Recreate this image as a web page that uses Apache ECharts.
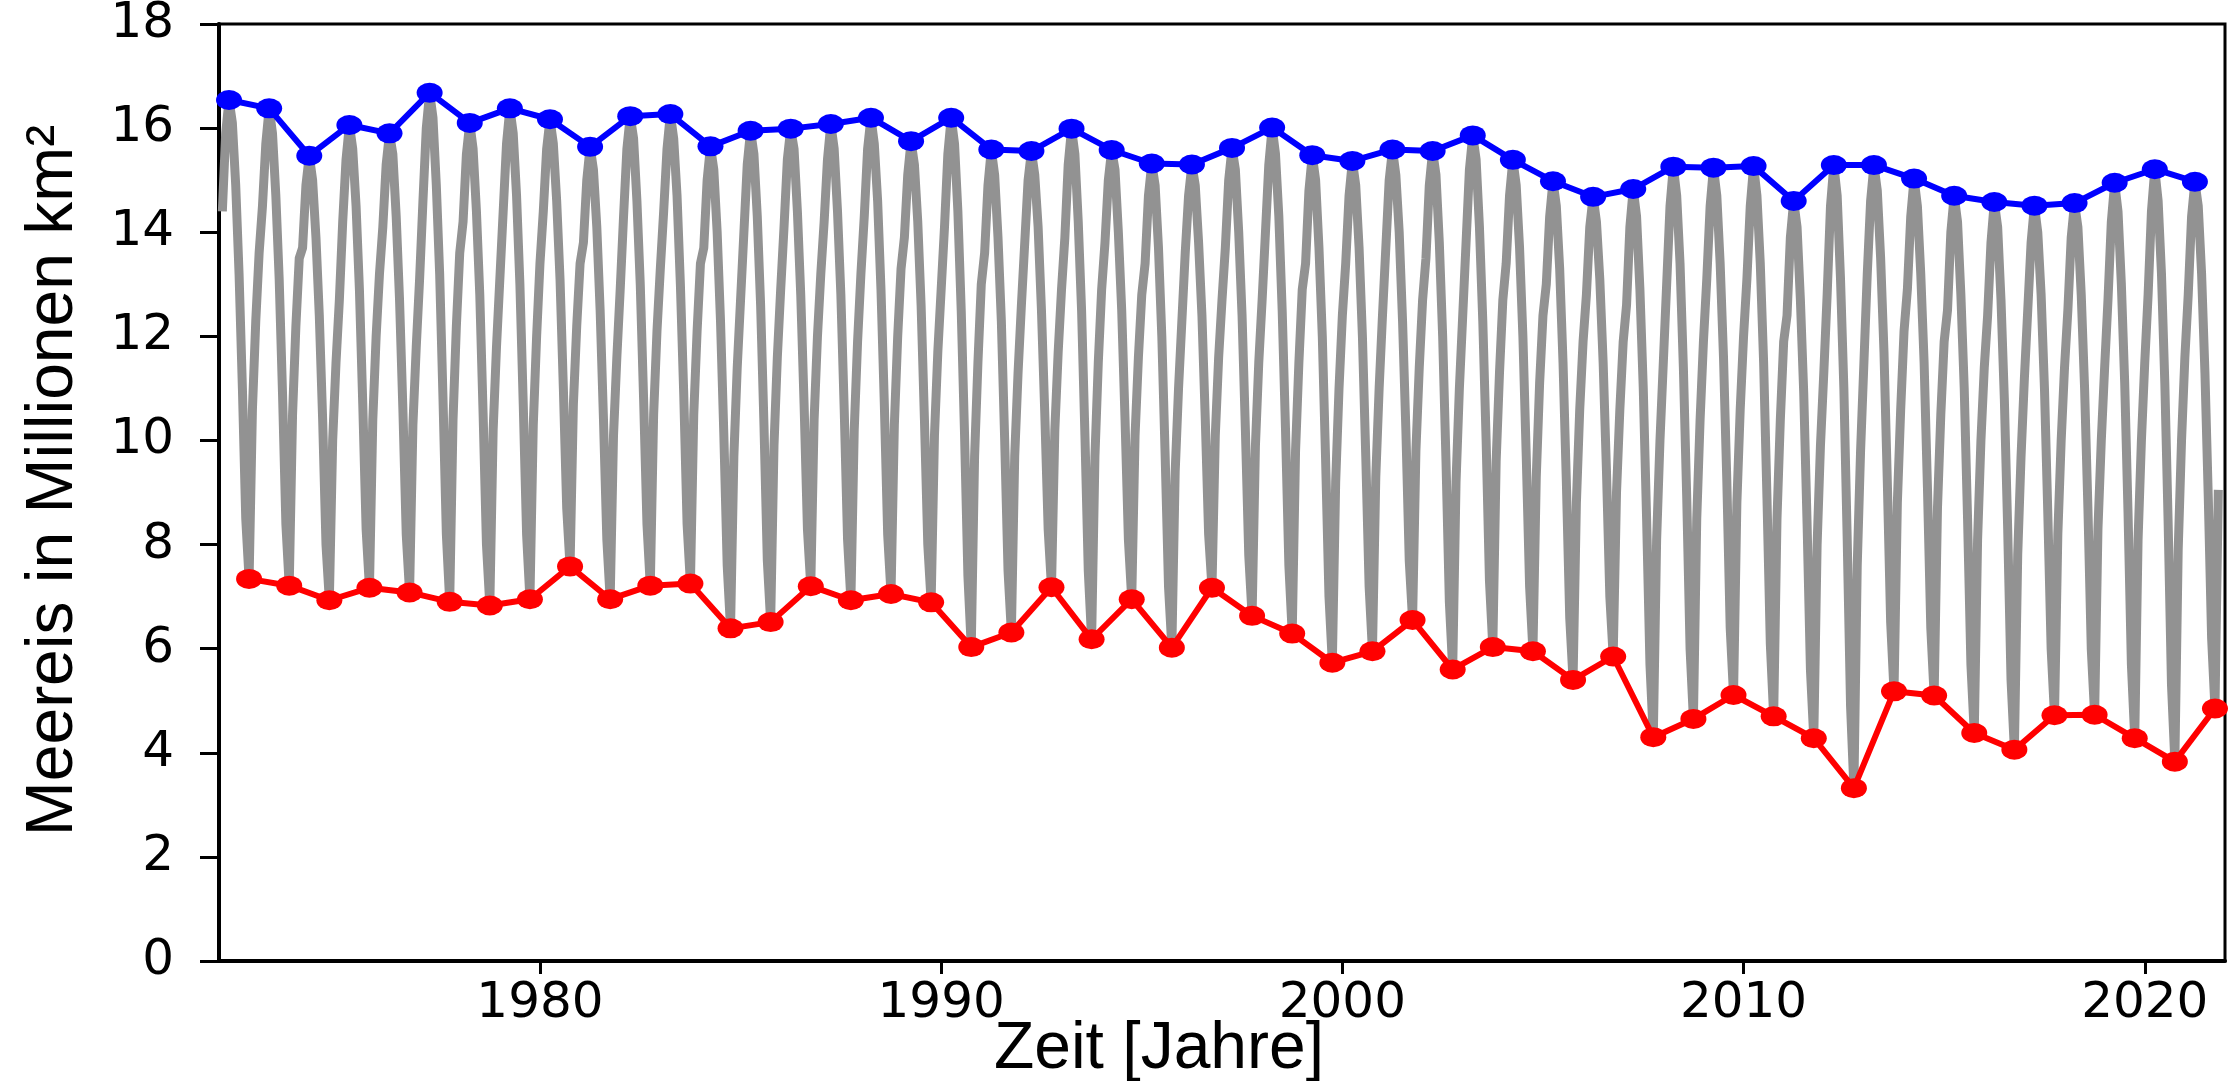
<!DOCTYPE html>
<html><head><meta charset="utf-8">
<script src="https://cdn.jsdelivr.net/npm/echarts@6/dist/echarts.min.js"></script>
<style>html,body{margin:0;padding:0;background:#fff}#c{width:2230px;height:1081px}</style>
</head><body><div id="c"></div>
<script>
// Years (each year's monthly values; x = year + month/12)
const years = [1972,1973,1974,1975,1976,1977,1978,1979,1980,1981,
1982,1983,1984,1985,1986,1987,1988,1989,1990,1991,
1992,1993,1994,1995,1996,1997,1998,1999,2000,2001,
2002,2003,2004,2005,2006,2007,2008,2009,2010,2011,
2012,2013,2014,2015,2016,2017,2018,2019,2020,2021];
// Annual maxima (March) – blue
const maxima = [16.54,16.38,15.47,16.06,15.90,16.68,16.10,16.38,16.17,15.64,
16.23,16.27,15.65,15.95,15.99,16.08,16.20,15.75,16.20,15.59,
15.56,15.99,15.58,15.32,15.30,15.62,16.01,15.48,15.37,15.59,
15.56,15.86,15.39,14.98,14.68,14.83,15.26,15.24,15.27,14.60,
15.29,15.29,15.03,14.70,14.58,14.51,14.56,14.95,15.21,14.97];
// Annual minima (September) – red
const minima = [7.34,7.21,6.93,7.17,7.08,6.90,6.83,6.95,7.58,6.95,
7.21,7.25,6.39,6.51,7.20,6.93,7.05,6.89,6.03,6.31,
7.18,6.18,6.95,6.02,7.17,6.63,6.29,5.73,5.95,6.55,
5.60,6.03,5.95,5.40,5.85,4.30,4.65,5.11,4.70,4.28,
3.32,5.18,5.10,4.38,4.06,4.72,4.73,4.28,3.83,4.85];
// Other monthly values (estimated from the grey curve)
const jan = [14.4,14.5,13.7,14.2,14.1,14.6,14.2,14.4,14.4,13.8,
14.3,14.4,13.7,14.0,14.1,14.2,14.3,13.9,14.1,13.6,
13.8,13.9,13.8,13.4,13.6,13.7,14.0,13.4,13.4,13.7,
13.5,13.8,13.4,13.0,12.8,12.6,13.0,13.1,13.1,12.4,
12.8,13.2,12.9,12.5,12.4,12.5,12.5,12.7,12.8,12.8];
const feb = [15.9,15.7,14.9,15.4,15.3,16.0,15.5,15.7,15.6,15.0,
15.6,15.6,15.0,15.3,15.4,15.4,15.6,15.1,15.5,14.9,
15.0,15.3,15.0,14.7,14.7,15.0,15.3,14.8,14.7,15.0,
14.9,15.2,14.7,14.3,14.1,14.1,14.5,14.5,14.5,13.9,
14.5,14.6,14.3,14.0,13.8,13.8,13.9,14.2,14.4,14.3];
const apr = [16.1,15.9,15.0,15.6,15.5,16.2,15.6,15.9,15.7,15.2,
15.8,15.8,15.2,15.5,15.6,15.6,15.7,15.3,15.7,15.1,
15.1,15.5,15.2,14.9,14.9,15.2,15.5,15.0,14.9,15.1,
15.1,15.4,14.9,14.5,14.2,14.3,14.7,14.7,14.7,14.1,
14.7,14.8,14.5,14.2,14.1,14.0,14.1,14.4,14.6,14.5];
const may = [14.9,14.7,13.9,14.5,14.3,14.9,14.4,14.7,14.6,14.1,
14.6,14.7,14.0,14.3,14.4,14.4,14.6,14.2,14.4,13.9,
14.1,14.2,14.0,13.7,13.8,14.0,14.3,13.7,13.7,14.0,
13.8,14.1,13.7,13.3,13.1,12.9,13.4,13.4,13.4,12.7,
13.1,13.5,13.2,12.8,12.7,12.8,12.8,13.0,13.2,13.2];
const jun = [13.2,13.1,12.4,12.9,12.7,13.2,12.8,13.0,13.1,12.5,
13.0,13.0,12.3,12.6,12.8,12.8,12.9,12.6,12.5,12.3,
12.5,12.5,12.5,12.0,12.4,12.4,12.5,12.0,12.0,12.3,
12.0,12.3,12.0,11.5,11.5,11.0,11.4,11.6,11.5,10.9,
11.0,11.7,11.5,11.0,10.8,11.0,11.0,11.1,11.1,11.3];
const jul = [11.0,10.9,10.4,10.7,10.6,10.8,10.5,10.7,11.0,10.4,
10.8,10.9,10.1,10.3,10.7,10.6,10.7,10.4,10.1,10.0,
10.5,10.1,10.4,9.7,10.4,10.2,10.2,9.6,9.7,10.2,
9.6,10.0,9.7,9.2,9.4,8.5,8.9,9.2,8.9,8.4,
8.1,9.2,9.1,8.5,8.3,8.6,8.7,8.6,8.4,8.9];
const aug = [8.5,8.4,8.0,8.3,8.2,8.2,8.0,8.2,8.7,8.1,
8.4,8.4,7.6,7.7,8.3,8.1,8.2,8.0,7.4,7.5,
8.3,7.5,8.1,7.2,8.2,7.8,7.6,7.0,7.2,7.7,
6.9,7.3,7.2,6.6,7.0,5.7,6.0,6.4,6.1,5.6,
4.9,6.5,6.4,5.7,5.4,6.0,6.0,5.7,5.3,6.2];
const oct = [10.6,10.5,10.0,10.4,10.3,10.4,10.2,10.3,10.7,10.1,
10.5,10.5,9.7,9.9,10.4,10.2,10.3,10.1,9.7,9.7,
10.2,9.7,10.1,9.4,10.1,9.9,9.8,9.2,9.3,9.8,
9.2,9.6,9.3,8.8,9.0,8.1,8.5,8.8,8.5,8.0,
7.6,8.8,8.7,8.1,7.8,8.2,8.3,8.1,7.9,9.05];
const nov = [12.3,12.2,11.5,12.0,11.8,12.2,11.8,12.0,12.2,11.6,
12.1,12.1,11.4,11.6,12.0,11.9,12.0,11.7,11.5,11.3,
11.7,11.5,11.6,11.0,11.6,11.5,11.5,11.0,11.0,11.4,
11.0,11.3,11.1,10.6,10.6,10.0,10.4,10.6,10.4,9.9,
9.8,10.6,10.5,10.0,9.7,10.0,10.0,10.0,10.0];
const dec = [13.6,13.5,12.7,13.2,13.1,13.6,13.1,13.4,13.4,12.9,
13.3,13.4,12.7,12.9,13.2,13.2,13.3,12.9,13.0,12.6,
12.9,12.9,12.8,12.3,12.7,12.7,12.9,12.4,12.4,12.7,
12.4,12.7,12.4,11.9,11.9,11.5,11.9,12.0,11.9,11.3,
11.5,12.1,11.9,11.4,11.2,11.4,11.4,11.5,11.6];
// Tick labels
const xTicks = [1980,1990,2000,2010,2020];
const yMin = 0, yMax = 18, yStep = 2;
const xMin = 1972, xMax = 2022;

const gray = [];
years.forEach((y, i) => {
  const vals = [jan[i],feb[i],maxima[i],apr[i],may[i],jun[i],jul[i],aug[i],minima[i],oct[i],nov[i],dec[i]];
  vals.forEach((v, k) => { if (v !== undefined && v !== null) gray.push([y + (k + 1) / 12, v]); });
});
const blue = years.map((y, i) => [y + 3 / 12, maxima[i]]);
const red = years.map((y, i) => [y + 9 / 12, minima[i]]);

const chart = echarts.init(document.getElementById('c'), null, {renderer: 'canvas'});
chart.setOption({
  animation: false,
  backgroundColor: '#ffffff',
  grid: {left: 219, right: 5, top: 24, bottom: 120, containLabel: false, outerBoundsMode: 'none',
         show: true, borderColor: '#000', borderWidth: 3, backgroundColor: 'transparent'},
  xAxis: {
    type: 'value', min: xMin, max: xMax,
    axisLine: {show: true, onZero: false, lineStyle: {color: '#000', width: 4}},
    axisTick: {show: true, customValues: xTicks, length: 13, lineStyle: {color: '#000', width: 3}},
    axisLabel: {customValues: xTicks, formatter: v => String(v), fontSize: 50, fontFamily: 'DejaVu Sans', color: '#000', margin: 18},
    splitLine: {show: false},
    name: 'Zeit [Jahre]', nameLocation: 'middle', nameGap: 56, nameMoveOverlap: false,
    nameTextStyle: {fontSize: 66, fontFamily: 'Liberation Sans', color: '#000', padding: [0, 126, 0, 0]}
  },
  yAxis: {
    type: 'value', min: yMin, max: yMax, interval: yStep,
    axisLine: {show: true, lineStyle: {color: '#000', width: 4}},
    axisTick: {show: true, length: 19, lineStyle: {color: '#000', width: 3}},
    axisLabel: {fontSize: 50, fontFamily: 'DejaVu Sans', color: '#000', margin: 45},
    splitLine: {show: false},
    name: 'Meereis in Millionen km²', nameLocation: 'middle', nameGap: 132, nameMoveOverlap: false,
    nameTextStyle: {fontSize: 66, fontFamily: 'Liberation Sans', color: '#000', padding: [0, 0, 0, 24]}
  },
  series: [
    {type: 'line', data: gray, symbol: 'none', showSymbol: false, silent: true, z: 1,
     lineStyle: {color: '#929292', width: 9, join: 'round'}},
    {type: 'line', data: blue, symbol: 'circle', symbolSize: [26, 20], z: 3,
     itemStyle: {color: '#0000ff'}, lineStyle: {color: '#0000ff', width: 6}},
    {type: 'line', data: red, symbol: 'circle', symbolSize: [26, 20], z: 3,
     itemStyle: {color: '#ff0000'}, lineStyle: {color: '#ff0000', width: 6}}
  ]
});
</script>
</body></html>
